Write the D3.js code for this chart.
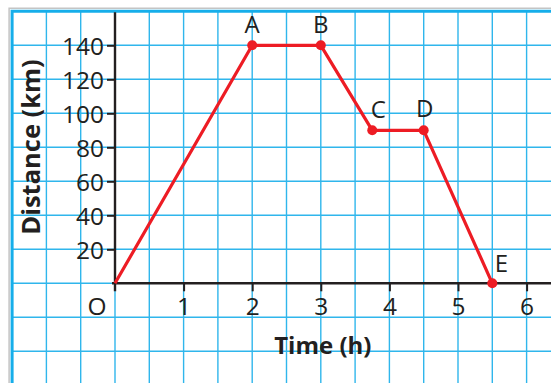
<!DOCTYPE html>
<html>
<head>
<meta charset="utf-8">
<script src="https://cdn.jsdelivr.net/npm/d3@7"></script>
<style>
  html, body { margin: 0; padding: 0; background: #ffffff; }
  svg { display: block; }
  text { font-family: "Open Sans", "Noto Sans", sans-serif; fill: #231f20; }
</style>
</head>
<body>
<svg id="chart" width="551" height="383"></svg>
<script>
// ---- data ----
const times = [0, 2, 3, 3.75, 4.5, 5.5];
const distances = [0, 140, 140, 90, 90, 0];
const pointLabels = ["", "A", "B", "C", "D", "E"];
const xTickValues = [1, 2, 3, 4, 5, 6];
const yTickValues = [20, 40, 60, 80, 100, 120, 140];
const xTitle = "Time (h)";
const yTitle = "Distance (km)";
const originLabel = "O";

const svg = d3.select("#chart");
const W = 551, H = 383;

const x = d3.scaleLinear().domain([0, 6]).range([115, 115 + 6 * 68.6]);
const y = d3.scaleLinear().domain([0, 140]).range([283.3, 283.3 - 140 * 1.7]);

// grid
const gridColor = "#2fb6ec";
const gx = d3.range(-1.5, 7, 0.5);
const gy = d3.range(-60, 161, 20);
const grid = svg.append("g");
grid.selectAll("line.v").data(gx.filter(v => v > -1.5)).enter().append("line")
  .attr("x1", d => x(d)).attr("x2", d => x(d))
  .attr("y1", y(160)).attr("y2", H)
  .attr("stroke", gridColor).attr("stroke-width", 1.4);
grid.selectAll("line.h").data(gy.filter(v => v < 160)).enter().append("line")
  .attr("x1", x(-1.5)).attr("x2", W)
  .attr("y1", d => y(d)).attr("y2", d => y(d))
  .attr("stroke", gridColor).attr("stroke-width", 1.4);

// border with shadow
const bx = x(-1.5), by = y(160);
svg.append("path")
  .attr("d", `M${bx - 3},${H} V${by - 3} H${W}`)
  .attr("fill", "none").attr("stroke", "#c4c4c4").attr("stroke-width", 1.5);
svg.append("path")
  .attr("d", `M${bx},${H} V${by} H${W}`)
  .attr("fill", "none").attr("stroke", "#16aeea").attr("stroke-width", 3);

// axes
const axisColor = "#231f20";
svg.append("line")
  .attr("x1", x(0)).attr("x2", x(0))
  .attr("y1", by + 1).attr("y2", y(0) + 8)
  .attr("stroke", axisColor).attr("stroke-width", 2.4);
svg.append("line")
  .attr("x1", x(0) - 3).attr("x2", W)
  .attr("y1", y(0)).attr("y2", y(0))
  .attr("stroke", axisColor).attr("stroke-width", 2.4);

// y ticks
const yAxis = d3.axisLeft(y).tickValues(yTickValues).tickSize(8).tickPadding(3);
const gyA = svg.append("g").attr("transform", `translate(${x(0)},0)`).call(yAxis);
gyA.select(".domain").remove();
gyA.selectAll(".tick line").attr("stroke", axisColor).attr("stroke-width", 2);
gyA.selectAll(".tick text")
  .attr("font-family", "Open Sans, sans-serif").attr("font-size", 24.5)
  .attr("fill", axisColor).attr("dy", "0.36em");

// x ticks
const xAxis = d3.axisBottom(x).tickValues(xTickValues).tickSize(8).tickPadding(4).tickFormat(d3.format("d"));
const gxA = svg.append("g").attr("transform", `translate(0,${y(0)})`).call(xAxis);
gxA.select(".domain").remove();
gxA.selectAll(".tick line").attr("stroke", axisColor).attr("stroke-width", 2);
gxA.selectAll(".tick text")
  .attr("font-family", "Open Sans, sans-serif").attr("font-size", 24.5)
  .attr("fill", axisColor).attr("y", 0).attr("dy", 32);

// origin label
svg.append("text").attr("x", x(0) - 18).attr("y", y(0) + 32)
  .attr("text-anchor", "middle").attr("font-size", 24.5).text(originLabel);

// titles
svg.append("text").attr("x", x(3.03)).attr("y", 354)
  .attr("text-anchor", "middle").attr("font-size", 24).attr("font-weight", "bold")
  .text(xTitle);
svg.append("text")
  .attr("transform", `translate(40,${147}) rotate(-90)`)
  .attr("text-anchor", "middle").attr("font-size", 25.5).attr("font-weight", "bold")
  .text(yTitle);

// line
const pts = times.map((t, i) => [t, distances[i]]);
svg.append("path")
  .attr("d", d3.line().x(d => x(d[0])).y(d => y(d[1]))(pts))
  .attr("fill", "none").attr("stroke", "#ed1c24").attr("stroke-width", 3.2)
  .attr("stroke-linejoin", "round");

// dots
const labeled = pts.map((p, i) => ({ t: p[0], d: p[1], label: pointLabels[i] })).filter(p => p.label);
svg.selectAll("circle.pt").data(labeled).enter().append("circle")
  .attr("cx", d => x(d.t)).attr("cy", d => y(d.d)).attr("r", 5)
  .attr("fill", "#ed1c24");

// point labels
const labelOffsets = { A: [0, -12], B: [0, -12], C: [6, -12], D: [1, -13], E: [9, -11] };
svg.selectAll("text.pl").data(labeled).enter().append("text")
  .attr("x", d => x(d.t) + labelOffsets[d.label][0])
  .attr("y", d => y(d.d) + labelOffsets[d.label][1])
  .attr("text-anchor", "middle").attr("font-size", 24)
  .text(d => d.label);
</script>
</body>
</html>
